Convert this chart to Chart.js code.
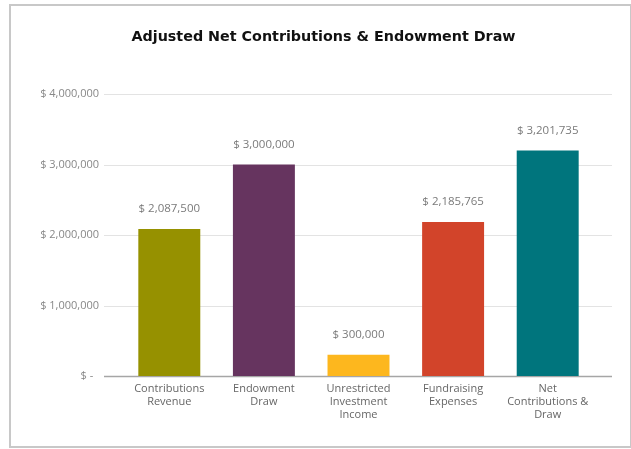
<!DOCTYPE html>
<html lang="en">
<head>
    <meta charset="UTF-8">
    <title>Adjusted Net Contributions & Endowment Draw</title>
    <script src="https://cdn.jsdelivr.net/npm/chart.js"></script>
    <style>
        body {
            margin: 0;
            background: #fff;
        }
        #wrap {
            position: relative;
            width: 631px;
            height: 449px;
        }
        #frame {
            position: absolute;
            left: 9px;
            top: 4px;
            width: 619px;
            height: 440px;
            border: 2px solid #c8c8c8;
            pointer-events: none;
        }
        canvas {
            position: absolute;
            left: 0;
            top: 0;
        }
    </style>
</head>
<body>
    <div id="wrap">
        <canvas id="drawChart" width="631" height="449"></canvas>
        <div id="frame"></div>
    </div>

    <script>
        // chart data
        const categories = [
            ["Contributions", "Revenue"],
            ["Endowment", "Draw"],
            ["Unrestricted", "Investment", "Income"],
            ["Fundraising", "Expenses"],
            ["Net", "Contributions &", "Draw"]
        ];
        const amounts = [2087500, 3000000, 300000, 2185765, 3201735];
        const barColors = ["#969100", "#66345F", "#FDB71E", "#D2442A", "#00757D"];
        const yTicks = [0, 1000000, 2000000, 3000000, 4000000];

        // accounting style: "$ 1,000,000", zero shown as "$ -"
        function money(v) {
            if (v === 0) return "$ -  ";
            return "$ " + v.toLocaleString("en-US");
        }

        // gridlines run a bit wider than the category band, like the original
        const gridPlugin = {
            id: "wideGrid",
            beforeDatasetsDraw(chart) {
                const ctx = chart.ctx;
                const y = chart.scales.y;
                ctx.save();
                yTicks.forEach(t => {
                    const py = Math.round(y.getPixelForValue(t)) + 0.5;
                    ctx.strokeStyle = t === 0 ? "#a6a6a6" : "#e3e3e3";
                    ctx.lineWidth = t === 0 ? 1.5 : 1;
                    ctx.beginPath();
                    ctx.moveTo(104, py);
                    ctx.lineTo(612, py);
                    ctx.stroke();
                });
                ctx.restore();
            }
        };

        // value labels above each bar
        const labelPlugin = {
            id: "barLabels",
            afterDatasetsDraw(chart) {
                const ctx = chart.ctx;
                const meta = chart.getDatasetMeta(0);
                ctx.save();
                ctx.font = "11.5px 'Open Sans'";
                ctx.fillStyle = "#7a7a7a";
                ctx.textAlign = "center";
                ctx.textBaseline = "middle";
                meta.data.forEach((bar, i) => {
                    ctx.fillText(money(amounts[i]), bar.x, bar.y - 20);
                });
                ctx.restore();
            }
        };

        const ctx = document.getElementById("drawChart").getContext("2d");
        new Chart(ctx, {
            type: "bar",
            data: {
                labels: categories,
                datasets: [{
                    data: amounts,
                    backgroundColor: barColors,
                    borderWidth: 0,
                    barPercentage: 1,
                    categoryPercentage: 0.655
                }]
            },
            options: {
                responsive: false,
                animation: false,
                layout: {
                    padding: { left: 16, right: 0, top: 0, bottom: 0 }
                },
                plugins: {
                    legend: { display: false },
                    tooltip: { enabled: false },
                    title: {
                        display: true,
                        text: "Adjusted Net Contributions & Endowment Draw",
                        color: "#111",
                        font: { family: "'DejaVu Sans'", size: 14.3, weight: "bold" },
                        padding: { top: 29, bottom: 48 }
                    }
                },
                scales: {
                    x: {
                        grid: { display: false, drawTicks: false },
                        border: { display: false },
                        ticks: {
                            color: "#666",
                            font: { family: "'Open Sans'", size: 11, lineHeight: 1.2 },
                            padding: 6,
                            autoSkip: false,
                            maxRotation: 0
                        },
                        afterFit(scale) { scale.height = 73; }
                    },
                    y: {
                        min: 0,
                        max: 4000000,
                        grid: { display: false, drawTicks: false },
                        border: { display: false },
                        ticks: {
                            stepSize: 1000000,
                            color: "#888",
                            font: { family: "'Open Sans'", size: 11 },
                            padding: 23,
                            callback: v => money(v)
                        },
                        afterFit(scale) { scale.width = 106; }
                    },
                    // empty right axis keeps the plot band off the right edge
                    yRight: {
                        position: "right",
                        grid: { display: false, drawTicks: false },
                        border: { display: false },
                        ticks: { display: false },
                        afterFit(scale) { scale.width = 36; }
                    }
                }
            },
            plugins: [gridPlugin, labelPlugin]
        });
    </script>
</body>
</html>
